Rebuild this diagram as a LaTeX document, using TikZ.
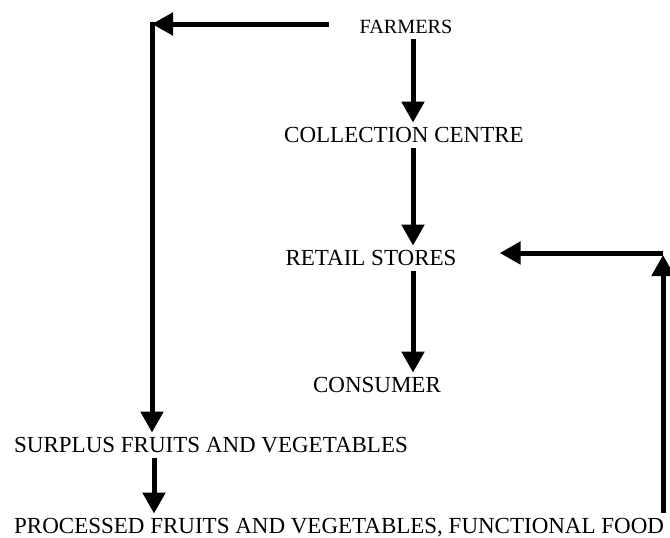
\documentclass[tikz,border=0pt]{standalone}
\usepackage{fontspec}
\setmainfont{Liberation Serif}
\usetikzlibrary{arrows.meta}

\tikzset{
  lbl/.style={inner sep=0pt, anchor=base, font=\fontsize{23}{27}\selectfont},
  flow/.style={line width=5pt, -{Triangle[length=21pt,width=22pt]}, shorten <=6pt, shorten >=4pt}
}

\begin{document}
\begin{tikzpicture}[x=1pt, y=1pt]
  \useasboundingbox (0,0) rectangle (670,-538);
  % the chain
  \node[lbl, font=\fontsize{20.2}{24}\selectfont] (farmers) at (406,-33) {FARMERS};
  \node[lbl] (collection) at (404,-142) {COLLECTION CENTRE};
  \node[lbl] (retail) at (371,-265) {RETAIL STORES};
  \node[lbl] (consumer) at (377,-392) {CONSUMER};
  \node[lbl, anchor=base west] (surplus) at (14,-452) {SURPLUS FRUITS AND VEGETABLES};
  \node[lbl, anchor=base west] (processed) at (14,-533) {PROCESSED FRUITS AND VEGETABLES, FUNCTIONAL FOOD};
  \coordinate (spine) at (413,0);
  \coordinate (lt) at (152,-24);
  \coordinate (rt) at (663,-253);
  \coordinate (rspine) at (663,0);
  \draw[flow] (farmers.south -| spine) -- (collection.north -| spine);
  \draw[flow] (collection.south -| spine) -- (retail.north -| spine);
  \draw[flow] (retail.south -| spine) -- (consumer.north -| spine);
  % surplus branch
  \draw[flow, shorten <=30pt, shorten >=0pt] (farmers.west |- lt) -- (lt);
  \draw[flow, shorten <=0pt] ([yshift=2.5pt]lt) -- (surplus.north -| lt);
  \draw[flow, shorten <=5pt, shorten >=4pt] ([xshift=2pt]surplus.south -| lt) -- ([xshift=2pt]processed.north -| lt);
  % back to the stores
  \draw[flow, shorten <=5pt, shorten >=2pt] (processed.north -| rspine) -- (rt);
  \draw[flow, shorten <=0pt, shorten >=43pt] (rt) -- (retail.east |- rt);
\end{tikzpicture}
\end{document}
